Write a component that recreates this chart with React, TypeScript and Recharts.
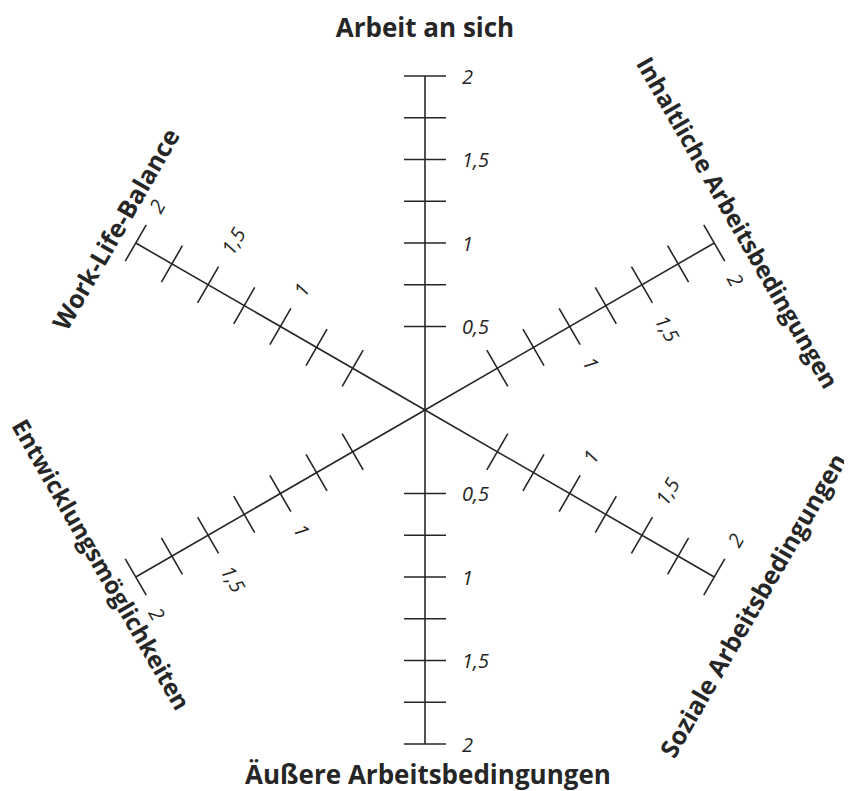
import React from 'react';
import { RadarChart, PolarAngleAxis, PolarRadiusAxis } from 'recharts';

const categories = [
  'Arbeit an sich',
  'Inhaltliche Arbeitsbedingungen',
  'Soziale Arbeitsbedingungen',
  'Äußere Arbeitsbedingungen',
  'Entwicklungsmöglichkeiten',
  'Work-Life-Balance',
];
const axisAngles = [90, 30, -30, -90, -150, 150];
// 0 keeps the axis line running through the centre; it gets no mark
const tickValues = [0, 0.5, 0.75, 1, 1.25, 1.5, 1.75, 2];
const verticalLabels = [0.5, 1, 1.5, 2];
const diagonalLabels = [1, 1.5, 2];
const scaleDomain = [0, 2];

const data = categories.map((name) => ({ name }));

const W = 844;
const H = 783;
const CX = 417;
const CY = 402;
const R = 334;
const RAD = Math.PI / 180;
const INK = '#262626';
const FONT = '"Open Sans", "DejaVu Sans", sans-serif';

// where each category title sits: distance from centre, shift along reading direction
const titlePlacement = [
  { r: 383, s: 0, size: 26 },
  { r: 365, s: -6, size: 24 },
  { r: 381, s: -5, size: 25 },
  { r: 364, s: 3, size: 26 },
  { r: 357, s: -28, size: 24 },
  { r: 359, s: 2, size: 25 },
];

const fmt = (v: number) => String(v).replace('.', ',');

// unit vector perpendicular to an axis, pointing so text reads left to right
function readDir(angle: number): [number, number] {
  const ux = Math.cos(angle * RAD);
  const uy = -Math.sin(angle * RAD);
  let dx = -uy;
  let dy = ux;
  if (dx < -1e-9) {
    dx = -dx;
    dy = -dy;
  }
  return [dx, dy];
}

function RadiusTick(props: any) {
  const { x, y, payload, axisAngle, labels } = props;
  const v = payload.value;
  if (v <= 0) return <g />;
  const [dx, dy] = readDir(axisAngle);
  const half = 21;
  const off = 37;
  const lx = x + dx * off;
  const ly = y + dy * off;
  const rot = Math.atan2(dy, dx) / RAD;
  return (
    <g>
      <line
        x1={x - dx * half}
        y1={y - dy * half}
        x2={x + dx * half}
        y2={y + dy * half}
        stroke={INK}
        strokeWidth={1.6}
      />
      {labels.includes(v) && (
        <text
          x={lx}
          y={ly}
          transform={`rotate(${rot} ${lx} ${ly})`}
          textAnchor="start"
          dominantBaseline="central"
          fontFamily={FONT}
          fontStyle="italic"
          fontSize={20}
          fill={INK}
        >
          {fmt(v)}
        </text>
      )}
    </g>
  );
}

function CategoryTick(props: any) {
  const { payload, index } = props;
  const angle = axisAngles[index];
  const p = titlePlacement[index];
  const [dx, dy] = readDir(angle);
  const ux = Math.cos(angle * RAD);
  const uy = -Math.sin(angle * RAD);
  const tx = CX + ux * p.r + dx * p.s;
  const ty = CY + uy * p.r + dy * p.s;
  const rot = Math.atan2(dy, dx) / RAD;
  return (
    <text
      x={tx}
      y={ty}
      transform={`rotate(${rot} ${tx} ${ty})`}
      textAnchor="middle"
      dominantBaseline="central"
      fontFamily={FONT}
      fontWeight={700}
      fontSize={p.size}
      fill={INK}
    >
      {payload.value}
    </text>
  );
}

export default function App() {
  return (
    <div style={{ width: W, height: H, background: '#fff' }}>
      <style>{'.recharts-surface{overflow:visible}'}</style>
      <RadarChart
        width={W}
        height={H}
        data={data}
        cx={CX}
        cy={CY}
        outerRadius={R}
        margin={{ top: 0, right: 0, bottom: 0, left: 0 }}
      >
        <PolarAngleAxis
          dataKey="name"
          type="category"
          axisLine={false}
          tickLine={false}
          tick={(p: any) => <CategoryTick {...p} />}
        />
        {axisAngles.map((a, i) => (
          <PolarRadiusAxis
            key={a}
            radiusAxisId={i === 0 ? 0 : `ax${i}`}
            angle={a}
            type="number"
            domain={scaleDomain}
            allowDataOverflow
            ticks={tickValues}
            axisLine={{ stroke: INK, strokeWidth: 1.6 }}
            tick={(p: any) => (
              <RadiusTick
                {...p}
                axisAngle={a}
                labels={a === 90 || a === -90 ? verticalLabels : diagonalLabels}
              />
            )}
          />
        ))}
      </RadarChart>
    </div>
  );
}
